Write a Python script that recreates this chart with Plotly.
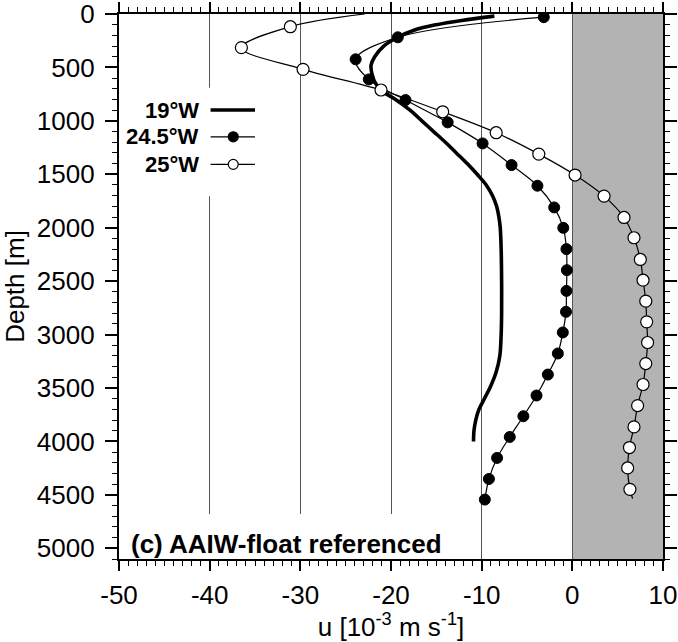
import plotly.graph_objects as go

# ---------------- data ----------------
depth_19w = [20, 60, 100, 150, 220, 300, 400, 480, 560, 650, 720, 800, 900, 1000, 1100,
             1200, 1300, 1400, 1500, 1600, 1700, 1800, 1900, 2000, 2200, 2500, 2800, 3000,
             3200, 3350, 3500, 3600, 3700, 3800, 3900, 4000]
u_19w = [-8.6, -12.2, -15.0, -17.4, -19.3, -20.8, -21.8, -22.2, -22.1, -21.7, -21.0, -19.5,
         -17.9, -16.6, -15.3, -14.0, -12.8, -11.6, -10.5, -9.5, -8.8, -8.35, -8.1, -7.95,
         -7.85, -7.8, -7.8, -7.85, -8.0, -8.4, -9.1, -9.7, -10.3, -10.65, -10.85, -10.9]

depth_245w = [30, 218, 424, 612, 805, 1014, 1211, 1414, 1607, 1810, 2001, 2200, 2397, 2591,
              2787, 2980, 3177, 3374, 3570, 3764, 3958, 4154, 4351, 4544]
u_245w = [-3.15, -19.25, -23.9, -22.45, -18.4, -13.75, -9.9, -6.7, -3.85, -2.0, -1.0, -0.65,
          -0.6, -0.65, -0.7, -1.05, -1.6, -2.7, -3.95, -5.4, -6.9, -8.3, -9.2, -9.65]

depth_25w = [0, 119, 315, 518, 711, 915, 1111, 1311, 1507, 1704, 1904, 2094, 2297, 2491,
             2687, 2881, 3074, 3271, 3467, 3664, 3864, 4057, 4248, 4448, 4535]
u_25w = [-22.9, -31.1, -36.5, -29.7, -21.1, -14.3, -8.4, -3.7, 0.3, 3.5, 5.7, 6.8, 7.5, 7.8,
         8.1, 8.2, 8.3, 8.1, 7.8, 7.2, 6.8, 6.3, 6.1, 6.35, 6.65]
# first and last 25°W values are line ends without a marker
has_marker_25w = [False] + [True] * 23 + [False]

series_names = ["19°W", "24.5°W", "25°W"]
x_ticks = [-50, -40, -30, -20, -10, 0, 10]
y_ticks = [0, 500, 1000, 1500, 2000, 2500, 3000, 3500, 4000, 4500, 5000]
panel_label = "(c) AAIW-float referenced"

FONT = "Liberation Sans, Arial, Helvetica, sans-serif"
MS = 11

fig = go.Figure()

fig.add_trace(go.Scatter(
    x=u_19w, y=depth_19w, mode="lines", name=series_names[0],
    line=dict(color="black", width=3.6, shape="spline"), showlegend=False))

fig.add_trace(go.Scatter(
    x=u_245w, y=depth_245w, mode="lines+markers", name=series_names[1],
    line=dict(color="black", width=1.2, shape="spline"),
    marker=dict(symbol="circle", size=MS, color="black", opacity=1,
                line=dict(color="black", width=1)),
    showlegend=False))

fig.add_trace(go.Scatter(
    x=u_25w, y=depth_25w, mode="lines+markers", name=series_names[2],
    line=dict(color="black", width=1.2, shape="spline"),
    marker=dict(symbol="circle", size=[MS + 1 if m else 0 for m in has_marker_25w],
                color="#ffffff", opacity=1, line=dict(color="black", width=1.2)),
    showlegend=False))

shapes = []
# grey positive-velocity region
shapes.append(dict(type="rect", xref="x", yref="y domain", x0=0, x1=10, y0=0, y1=1,
                   fillcolor="#b3b3b3", line=dict(width=0), layer="below"))
# white box behind legend
shapes.append(dict(type="rect", xref="x", yref="y", x0=-50, x1=-34.2, y0=690, y1=1705,
                   fillcolor="white", line=dict(width=0), layer="above"))
# white box behind panel label
shapes.append(dict(type="rect", xref="x", yref="y", x0=-50, x1=-12.5, y0=4680, y1=5100,
                   fillcolor="white", line=dict(width=0), layer="above"))

# custom legend (text left of symbol)
leg_rows = [899, 1149, 1407]
lx0, lx1, lmark, ltext = -39.9, -35.0, -37.4, -41.0
styles = [dict(w=3.6, marker=None), dict(w=1.2, marker="black"), dict(w=1.2, marker="white")]
annotations = []
for name, yy, st in zip(series_names, leg_rows, styles):
    shapes.append(dict(type="line", xref="x", yref="y", x0=lx0, x1=lx1, y0=yy, y1=yy,
                       line=dict(color="black", width=st["w"]), layer="above"))
    if st["marker"]:
        shapes.append(dict(type="circle", xref="x", yref="y", xsizemode="pixel",
                           ysizemode="pixel", xanchor=lmark, yanchor=yy,
                           x0=-5, x1=5, y0=-5, y1=5, fillcolor=st["marker"],
                           line=dict(color="black", width=1.2), layer="above"))
    annotations.append(dict(x=ltext, y=yy, xref="x", yref="y", text=f"<b>{name}</b>",
                            showarrow=False, xanchor="right", yanchor="middle",
                            font=dict(family=FONT, size=22, color="black")))

annotations.append(dict(x=0.018, y=0.027, xref="x domain", yref="y domain",
                        text=f"<b>{panel_label}</b>", showarrow=False,
                        xanchor="left", yanchor="middle",
                        font=dict(family=FONT, size=26, color="black")))

fig.update_layout(
    width=678, height=642,
    margin=dict(l=119, r=15, t=14, b=83),
    paper_bgcolor="white", plot_bgcolor="white",
    font=dict(family=FONT, size=26, color="black"),
    shapes=shapes, annotations=annotations,
    showlegend=False,
)

fig.update_xaxes(
    range=[-50, 10], tickvals=x_ticks, ticktext=[str(v) for v in x_ticks],
    automargin=False, ticklabeloverflow="allow",
    showgrid=True, gridcolor="#555555", gridwidth=1,
    zeroline=False, showline=True, linecolor="black", linewidth=2.2, mirror="ticks",
    ticks="outside", ticklen=10, tickwidth=1.5, tickcolor="black",
    minor=dict(dtick=1, ticks="outside", ticklen=5, tickwidth=1.2, tickcolor="black",
               showgrid=False),
    tickfont=dict(size=26), ticklabelstandoff=2,
    title=dict(text="u [10<sup>-3</sup> m s<sup>-1</sup>]", font=dict(size=26), standoff=6),
)
fig.update_yaxes(
    range=[5100, 0], tickvals=y_ticks, ticktext=[str(v) for v in y_ticks],
    automargin=False, ticklabeloverflow="allow",
    showgrid=False, zeroline=False, showline=True, linecolor="black", linewidth=2.2,
    mirror="ticks",
    ticks="outside", ticklen=12, tickwidth=1.5, tickcolor="black",
    minor=dict(dtick=100, ticks="outside", ticklen=5, tickwidth=1.2, tickcolor="black",
               showgrid=False),
    tickfont=dict(size=26), ticklabelstandoff=5,
    title=dict(text="Depth [m]", font=dict(size=26), standoff=12),
)

fig.write_html("out.html")
